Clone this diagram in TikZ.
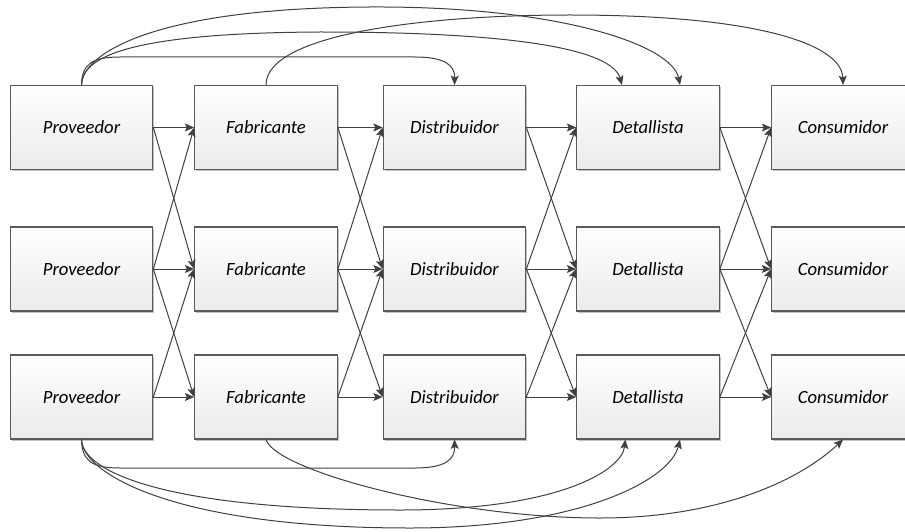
\documentclass[tikz,border=0pt]{standalone}
\usepackage{fontspec}
\setmainfont{Carlito}
\usetikzlibrary{arrows.meta, shadows}

\definecolor{linea}{HTML}{404040}
\definecolor{borde}{HTML}{5A5A5A}

\tikzset{
  etapa/.style={draw=borde, line width=0.8pt, top color=white, bottom color=black!8,
    minimum width=107pt, minimum height=63pt, inner sep=0pt,
    font=\fontsize{14}{16}\selectfont\itshape,
    drop shadow={shadow xshift=1.2pt, shadow yshift=-1.2pt, fill=black!40, opacity=.6}},
  flujo/.style={draw=linea, line width=0.75pt, ->},
}

\begin{document}
\begin{tikzpicture}[x=0.75pt, y=-0.75pt, >={Stealth[length=7pt, width=6pt, inset=1.5pt]}]

\useasboundingbox (0,0) rectangle (905,531);

% etapas de la cadena
\foreach \n/\t/\x in {prov/Proveedor/81.5, fab/Fabricante/266, dist/Distribuidor/454.5, det/Detallista/648, cons/Consumidor/843}
  \foreach \r/\y in {1/127.5, 2/269, 3/397}
    \node[etapa] (\n\r) at (\x,\y) {\t};

% flujos entre etapas vecinas
\foreach \a/\b in {prov/fab, fab/dist, dist/det, det/cons}
  \foreach \i/\j in {1/1, 2/2, 3/3, 1/2, 2/1, 2/3, 3/2}
    \draw[flujo] (\a\i.east) -- (\b\j.west);

% saltos por arriba
\draw[flujo] (prov1.north) .. controls (82,64) and (92,57) .. (120,57) -- (415,57)
  .. controls (446,57) and (455,66) .. (dist1.north);
\draw[flujo] (prov1.north) .. controls (82,58) and (125,33) .. (320,32)
  .. controls (520,32) and (612,50) .. ([xshift=-19.5pt]det1.north);
\draw[flujo] (prov1.north) .. controls (82,55) and (150,8) .. (370,7)
  .. controls (560,6) and (672,45) .. ([xshift=24pt]det1.north);
\draw[flujo] (fab1.north) .. controls (266,35) and (420,15) .. (570,15)
  .. controls (760,15) and (842,45) .. (cons1.north);

% saltos por abajo
\draw[flujo] (prov3.south) .. controls (82,461) and (92,468) .. (120,468) -- (415,468)
  .. controls (446,468) and (455,459) .. (dist3.south);
\draw[flujo] (prov3.south) .. controls (82,470) and (160,510) .. (400,510)
  .. controls (560,510) and (622,470) .. ([xshift=-17pt]det3.south);
\draw[flujo] (prov3.south) .. controls (82,472) and (170,528) .. (410,528)
  .. controls (580,528) and (670,480) .. ([xshift=24pt]det3.south);
\draw[flujo] (fab3.south) .. controls (275,470) and (450,518) .. (600,518)
  .. controls (720,518) and (800,480) .. (cons3.south);

\end{tikzpicture}
\end{document}
